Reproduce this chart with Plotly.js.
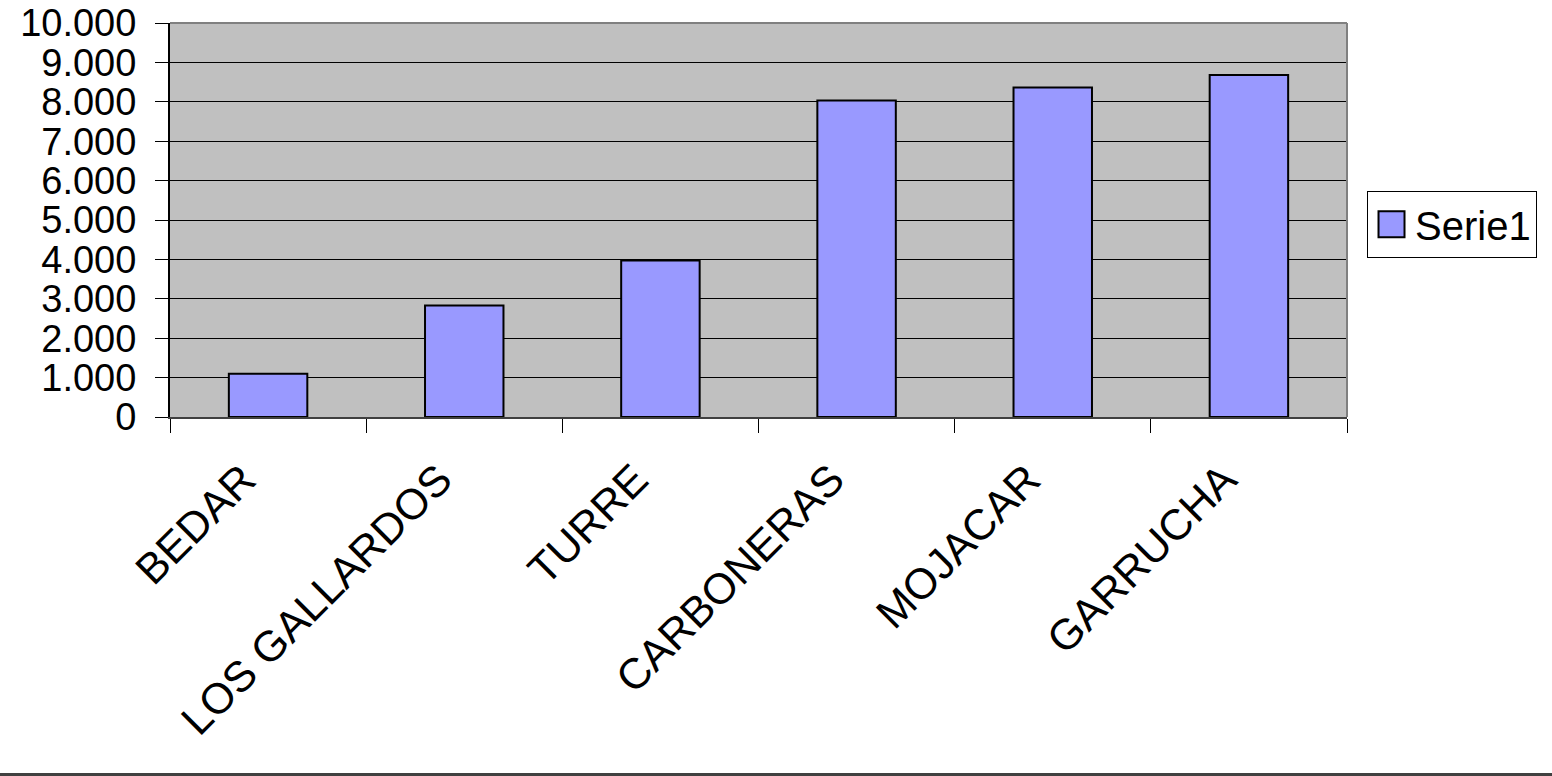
<!DOCTYPE html>
<html>
<head>
<meta charset="utf-8">
<script src="https://cdn.plot.ly/plotly-3.0.1.min.js"></script>
<style>
  html, body { margin: 0; padding: 0; background: #ffffff; overflow: hidden; }
  #chart { width: 1552px; height: 776px; }
  #rule { position: absolute; left: 0; top: 773px; width: 1552px; height: 3px; background: #404040; }
</style>
</head>
<body>
<div id="chart"></div>
<div id="rule"></div>
<script>
const categories = ["BEDAR", "LOS GALLARDOS", "TURRE", "CARBONERAS", "MOJACAR", "GARRUCHA"];
const serie1 = [1100, 2830, 3970, 8030, 8360, 8680];
const seriesName = "Serie1";
const yTickValues = [0, 1000, 2000, 3000, 4000, 5000, 6000, 7000, 8000, 9000, 10000];

const FONT = "Liberation Sans, Arial, sans-serif";

const trace = {
  type: "bar",
  x: categories,
  y: serie1,
  name: seriesName,
  marker: { color: "#9999FF", line: { color: "#000000", width: 2 } },
  hoverinfo: "x+y"
};

const layout = {
  width: 1552,
  height: 776,
  margin: { l: 170, r: 205, t: 23, b: 359, pad: 0 },
  paper_bgcolor: "#ffffff",
  plot_bgcolor: "#C0C0C0",
  separators: ",.",
  font: { family: FONT, size: 38, color: "#000000" },
  bargap: 0.6,
  showlegend: true,
  legend: {
    x: 1.017, y: 0.574, xanchor: "left", yanchor: "top",
    bgcolor: "#ffffff", bordercolor: "#000000", borderwidth: 1,
    itemwidth: 37,
    font: { family: FONT, size: 40, color: "#000000" }
  },
  xaxis: {
    type: "category",
    tickangle: -45,
    ticks: "outside",
    tickson: "boundaries",
    ticklen: 14,
    tickcolor: "#000000",
    tickwidth: 1,
    showline: true,
    linecolor: "#404040",
    linewidth: 2,
    showgrid: false,
    ticklabelstandoff: 18,
    ticklabelshift: -25,
    tickfont: { family: FONT, size: 43, color: "#000000" }
  },
  yaxis: {
    range: [0, 10000],
    tickvals: yTickValues,
    tickformat: ",d",
    ticks: "outside",
    ticklen: 13,
    tickcolor: "#000000",
    showline: true,
    linecolor: "#000000",
    linewidth: 2,
    showgrid: true,
    gridcolor: "#000000",
    gridwidth: 1,
    zeroline: false,
    ticklabelstandoff: 11,
    tickfont: { family: FONT, size: 38, color: "#000000" }
  },
  shapes: [
    { type: "line", xref: "paper", yref: "paper", x0: 0, x1: 1, y0: 1, y1: 1,
      line: { color: "#808080", width: 2 } },
    { type: "line", xref: "paper", yref: "paper", x0: 1, x1: 1, y0: 0, y1: 1,
      line: { color: "#808080", width: 2 } }
  ]
};

Plotly.newPlot("chart", [trace], layout, { displayModeBar: false, staticPlot: true }).then(function (gd) {
  // enlarge the legend swatch to match the reference's bigger square
  gd.querySelectorAll(".legend .legendpoints path").forEach(function (p) {
    p.setAttribute("d", "M13,13H-13V-13H13Z");
    p.style.strokeWidth = "2px";
    p.style.stroke = "#000000";
  });
});
</script>
</body>
</html>
